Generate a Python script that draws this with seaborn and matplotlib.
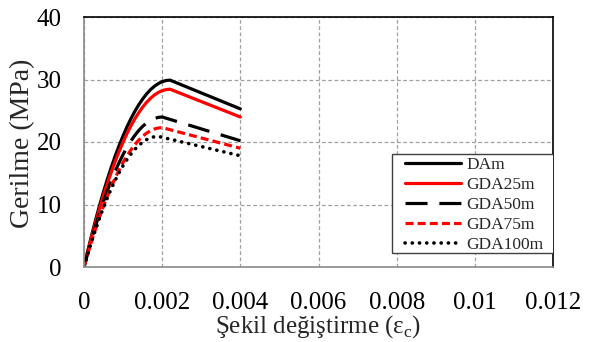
import matplotlib
matplotlib.use("Agg")
import matplotlib.pyplot as plt
from matplotlib.patches import Rectangle
import seaborn as sns
import pandas as pd

strain = [0, 0.0001, 0.0002, 0.0003, 0.0004, 0.0005, 0.0006, 0.0007, 0.0008, 0.0009,
          0.0010, 0.0011, 0.0012, 0.0013, 0.0014, 0.0015, 0.0016, 0.0017, 0.0018, 0.0019,
          0.0020, 0.0021, 0.0022, 0.0040]

dam    = [0, 2.66, 5.19, 7.60, 9.89, 12.05, 14.09, 16.00, 17.79, 19.46,
          21.00, 22.43, 23.72, 24.90, 25.95, 26.87, 27.68, 28.36, 28.91, 29.34,
          29.65, 29.84, 29.90, 25.30]
gda25  = [0, 2.53, 4.94, 7.23, 9.41, 11.47, 13.41, 15.22, 16.93, 18.52,
          19.98, 21.34, 22.57, 23.69, 24.69, 25.57, 26.34, 26.98, 27.51, 27.92,
          28.21, 28.39, 28.45, 24.00]
gda50  = [0, 2.34, 4.56, 6.66, 8.64, 10.50, 12.24, 13.86, 15.36, 16.74,
          18.00, 19.14, 20.16, 21.06, 21.84, 22.50, 23.04, 23.46, 23.76, 23.94,
          24.00, 23.81, 23.62, 20.20]
gda75  = [0, 2.17, 4.24, 6.19, 8.03, 9.76, 11.37, 12.88, 14.27, 15.55,
          16.73, 17.78, 18.73, 19.57, 20.29, 20.91, 21.41, 21.80, 22.08, 22.24,
          22.30, 22.14, 21.97, 19.00]
gda100 = [0, 2.14, 4.17, 6.08, 7.87, 9.55, 11.12, 12.56, 13.89, 15.11,
          16.21, 17.19, 18.06, 18.82, 19.45, 19.97, 20.38, 20.67, 20.84, 20.90,
          20.75, 20.60, 20.46, 17.80]

names = ["DAm", "GDA25m", "GDA50m", "GDA75m", "GDA100m"]
values = [dam, gda25, gda50, gda75, gda100]
colors = ["black", "#ff0000", "black", "#ff0000", "black"]

x_ticks = [0, 0.002, 0.004, 0.006, 0.008, 0.01, 0.012]
x_labels = ["0", "0.002", "0.004", "0.006", "0.008", "0.01", "0.012"]
y_ticks = [0, 10, 20, 30, 40]

sns.set_style("white")
plt.rcParams["font.family"] = ["Liberation Serif", "DejaVu Serif"]

fig = plt.figure(figsize=(5.95, 3.42), dpi=100)
ax = fig.add_axes([84/595, 75/342, (553-84)/595, (267-17)/342])

for name, vals, c in zip(names, values, colors):
    df = pd.DataFrame({"strain": strain, "stress": vals})
    sns.lineplot(data=df, x="strain", y="stress", ax=ax, color=c, lw=2.3,
                 label=name, sort=False)
    line = ax.get_lines()[-1]
    line.set_solid_joinstyle("round")
    if name == "GDA50m":
        line.set_dashes((6.9, 3.7))
    elif name == "GDA75m":
        line.set_dashes((2.5, 1.3))
    elif name == "GDA100m":
        line.set_linewidth(2.6)
        line.set_dash_capstyle("round")
        line.set_dashes((0.05, 1.95))

ax.set_xlim(0, 0.012)
ax.set_ylim(0, 40)
ax.set_xticks(x_ticks)
ax.set_xticklabels(x_labels)
ax.set_yticks(y_ticks)
ax.tick_params(axis="both", length=0, labelsize=18, colors="black")
ax.tick_params(axis="x", pad=18)
ax.tick_params(axis="y", pad=16)
ax.grid(True, color="#a0a0a0", linestyle=(0, (3, 2)), lw=0.9)
ax.set_axisbelow(True)

for s in ["left", "bottom"]:
    ax.spines[s].set_color("#8a8a8a")
    ax.spines[s].set_linewidth(1.2)
for s in ["top", "right"]:
    ax.spines[s].set_color("black")
    ax.spines[s].set_linewidth(1.2)

ax.set_xlabel("")
ax.set_ylabel("")
fig.text(318/595, 1 - 333/342, "Şekil değiştirme (ε$_\\mathregular{c}$)", ha="center",
         va="baseline", fontsize=18)
fig.text(23/595, 1 - 143/342, "Gerilme (MPa)", ha="center", va="center",
         rotation=90, fontsize=20)

box = Rectangle(((392-84)/469, (267-253)/250), 164/469, 99/250, transform=ax.transAxes,
                facecolor="white", edgecolor="#404040", lw=1.0, zorder=4)
ax.add_patch(box)
leg = ax.legend(loc="upper left", bbox_to_anchor=((405-84)/469, (267-157)/250),
                fontsize=12.5, frameon=False, handlelength=3.2, handletextpad=0.35,
                borderpad=0, labelspacing=0.22, borderaxespad=0)
leg.set_zorder(5)

fig.savefig("out.png", dpi=100)
